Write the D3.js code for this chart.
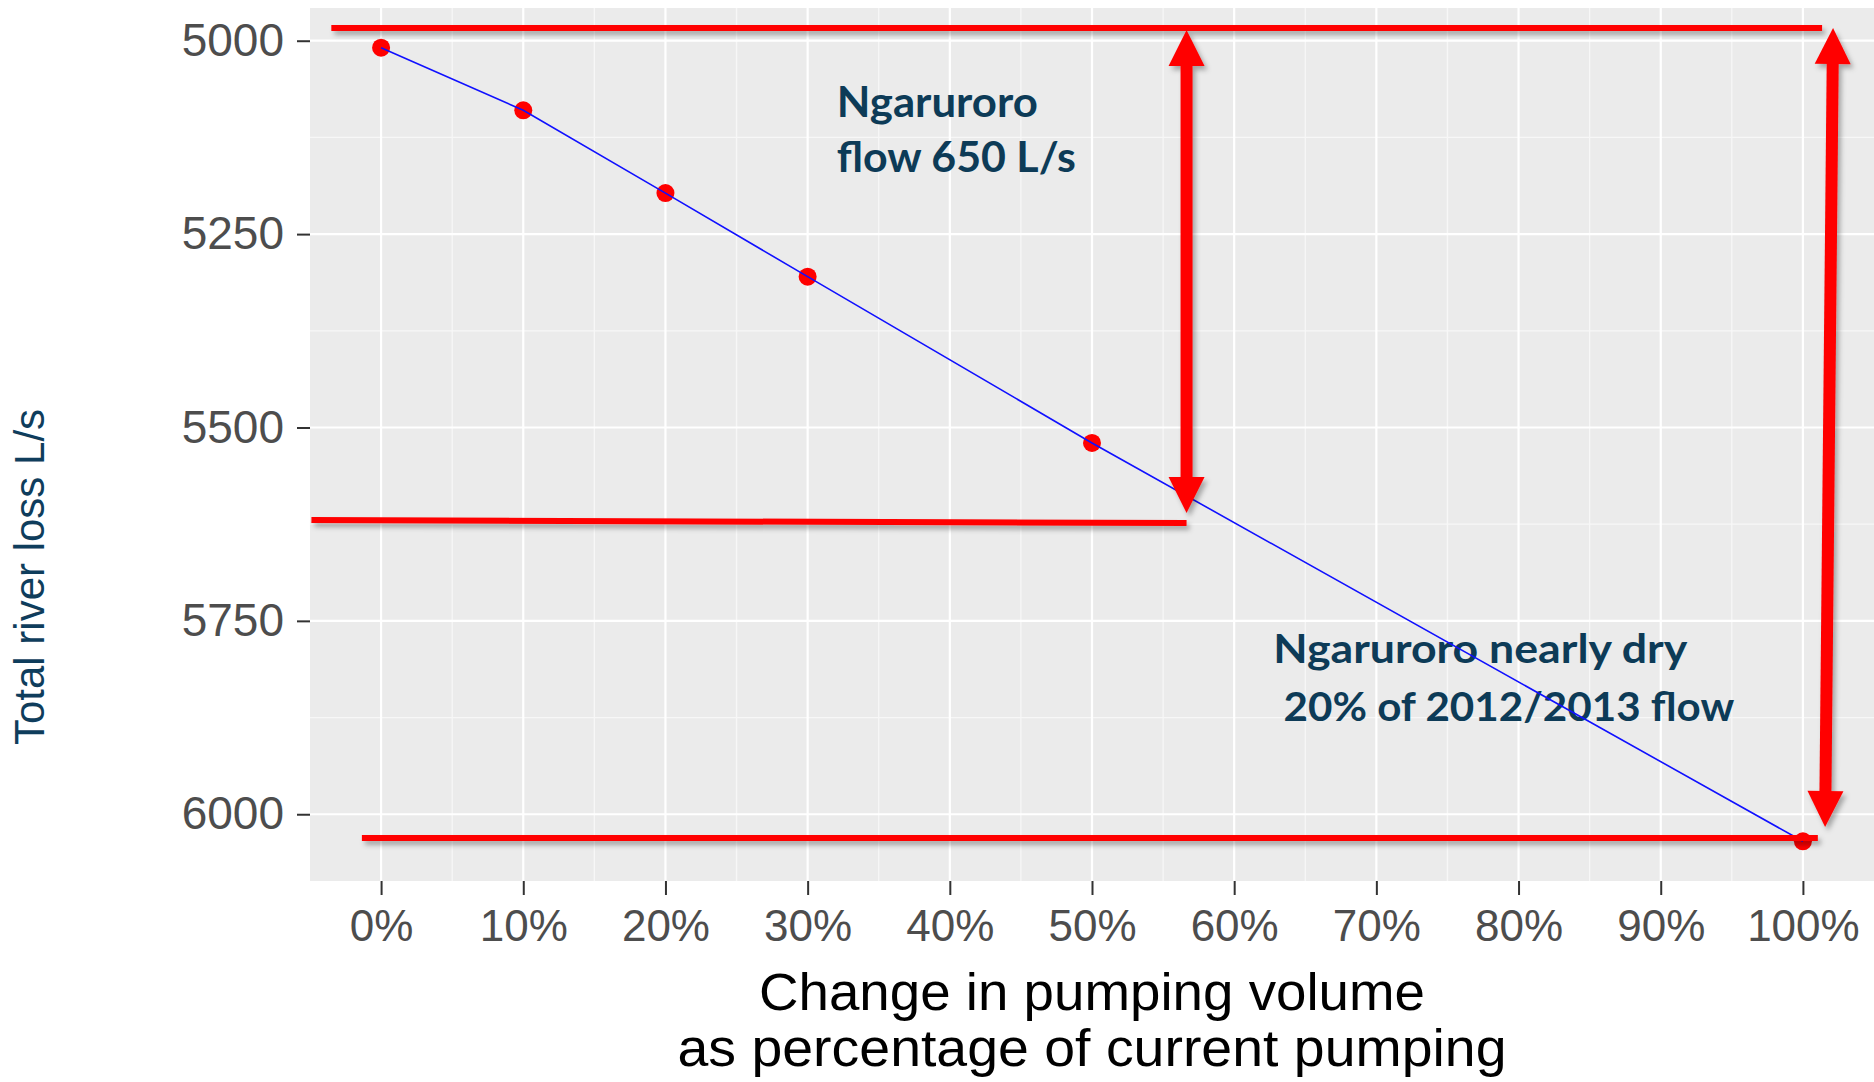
<!DOCTYPE html>
<html>
<head>
<meta charset="utf-8">
<script src="https://cdn.jsdelivr.net/npm/d3@7/dist/d3.min.js"></script>
<style>
  body { margin: 0; background: #ffffff; }
  svg { display: block; }
</style>
</head>
<body>
<div id="chart-area"></div>
<script>
// Datos
var pumpingChange = [0, 10, 20, 30, 50, 100];           // % del bombeo actual
var riverLoss = [5009, 5090, 5197, 5305, 5520, 6035];   // pérdida total L/s

var xTicks = [0, 10, 20, 30, 40, 50, 60, 70, 80, 90, 100];
var xMinor = [5, 15, 25, 35, 45, 55, 65, 75, 85, 95];
var yTicks = [5000, 5250, 5500, 5750, 6000];
var yMinor = [5125, 5375, 5625, 5875];

// Anotaciones (en unidades de datos)
var refLineX1 = [-3.5, -4.9, -1.35];
var refLineX2 = [101.35, 56.65, 101.05];
var refLineY1 = [4983.6, 5619.7, 6030.8];
var refLineY2 = [4983.6, 5623.6, 6030.8];

var arrowX1 = [56.65, 102.12];
var arrowY1 = [4986.2, 4983.6];
var arrowX2 = [56.65, 101.56];
var arrowY2 = [5610.6, 6016.5];

var noteLines = [
    ["Ngaruroro", "flow 650 L/s"],
    ["Ngaruroro nearly dry", " 20% of 2012/2013 flow"]
];

var W = 1874, H = 1082;
var margin = { top: 8, right: 0, bottom: 201, left: 310 },
    width = W - margin.left - margin.right,
    height = H - margin.top - margin.bottom;

var svg = d3.select("#chart-area")
    .append("svg")
    .attr("width", W)
    .attr("height", H);

var defs = svg.append("defs");
var shadow = defs.append("filter")
    .attr("id", "shadow")
    .attr("x", "-20%").attr("y", "-20%")
    .attr("width", "140%").attr("height", "140%");
shadow.append("feDropShadow")
    .attr("dx", 3).attr("dy", 4)
    .attr("stdDeviation", 2.5)
    .attr("flood-color", "#000")
    .attr("flood-opacity", 0.3);

var g = svg.append("g")
    .attr("transform", "translate(" + margin.left + "," + margin.top + ")");

// Escalas (expansión del 5% como ggplot)
var xScale = d3.scaleLinear().domain([-5, 105]).range([0, width]);
var yExt = d3.extent(riverLoss), yPad = (yExt[1] - yExt[0]) * 0.05;
var yScale = d3.scaleLinear()
    .domain([yExt[0] - yPad, yExt[1] + yPad])
    .range([0, height]);

// Fondo del panel
g.append("rect")
    .attr("width", width)
    .attr("height", height)
    .attr("fill", "#ebebeb");

// Cuadrícula menor y mayor
g.selectAll(".xminor").data(xMinor).enter().append("line")
    .attr("x1", function(d) { return xScale(d); })
    .attr("x2", function(d) { return xScale(d); })
    .attr("y1", 0).attr("y2", height)
    .attr("stroke", "#f7f7f7").attr("stroke-width", 1.3);
g.selectAll(".yminor").data(yMinor).enter().append("line")
    .attr("y1", function(d) { return yScale(d); })
    .attr("y2", function(d) { return yScale(d); })
    .attr("x1", 0).attr("x2", width)
    .attr("stroke", "#f7f7f7").attr("stroke-width", 1.3);
g.selectAll(".xmajor").data(xTicks).enter().append("line")
    .attr("x1", function(d) { return xScale(d); })
    .attr("x2", function(d) { return xScale(d); })
    .attr("y1", 0).attr("y2", height)
    .attr("stroke", "#ffffff").attr("stroke-width", 2.2);
g.selectAll(".ymajor").data(yTicks).enter().append("line")
    .attr("y1", function(d) { return yScale(d); })
    .attr("y2", function(d) { return yScale(d); })
    .attr("x1", 0).attr("x2", width)
    .attr("stroke", "#ffffff").attr("stroke-width", 2.2);

// Ejes
var xAxis = g.append("g")
    .attr("transform", "translate(0," + height + ")")
    .call(d3.axisBottom(xScale).tickValues(xTicks).tickSize(14).tickPadding(15)
        .tickFormat(function(d) { return d + "%"; }));
var yAxis = g.append("g")
    .call(d3.axisLeft(yScale).tickValues(yTicks).tickSize(13).tickPadding(13)
        .tickFormat(d3.format("d")));

[xAxis, yAxis].forEach(function(ax) {
    ax.select(".domain").remove();
    ax.selectAll(".tick line").attr("stroke", "#333333").attr("stroke-width", 2);
    ax.selectAll(".tick text")
        .attr("fill", "#4d4d4d")
        .style("font-family", "'Liberation Sans', Arial, sans-serif");
});
xAxis.selectAll(".tick text").style("font-size", "44px");
yAxis.selectAll(".tick text").style("font-size", "46px");

// Títulos de ejes
var xTitle = svg.append("text")
    .attr("text-anchor", "middle")
    .style("font-family", "'Liberation Sans', Arial, sans-serif")
    .style("font-size", "51px")
    .attr("fill", "#000000");
xTitle.append("tspan").attr("x", margin.left + width / 2).attr("y", 1010)
    .attr("textLength", 666).attr("lengthAdjust", "spacingAndGlyphs")
    .text("Change in pumping volume");
xTitle.append("tspan").attr("x", margin.left + width / 2).attr("y", 1066)
    .attr("textLength", 829).attr("lengthAdjust", "spacingAndGlyphs")
    .text("as percentage of current pumping");

svg.append("text")
    .attr("transform", "translate(44," + 577 + ") rotate(-90)")
    .attr("text-anchor", "middle")
    .style("font-family", "'Liberation Sans', Arial, sans-serif")
    .style("font-size", "42px")
    .attr("fill", "#0f3d5c")
    .text("Total river loss L/s");

// Puntos y línea
var data = pumpingChange.map(function(p, i) { return { x: p, y: riverLoss[i] }; });

g.selectAll("circle")
    .data(data)
    .enter().append("circle")
    .attr("cx", function(d) { return xScale(d.x); })
    .attr("cy", function(d) { return yScale(d.y); })
    .attr("r", 9)
    .attr("fill", "#ff0000");

// Texto de las anotaciones
var noteFont = "Lato, 'Open Sans', sans-serif";
var noteX = [32.05, 62.75];
var noteY = [5099, 5805];
var noteGap = [71, 75];
var noteLen = [[201, 239], [414, 461]];
noteLines.forEach(function(lines, i) {
    var t = g.append("text")
        .style("font-family", noteFont)
        .style("font-weight", "bold")
        .style("font-size", i === 0 ? "42px" : "40px")
        .style("white-space", "pre")
        .attr("fill", "#0d3b57");
    lines.forEach(function(s, j) {
        t.append("tspan")
            .attr("x", xScale(noteX[i]))
            .attr("y", yScale(noteY[i] + j * noteGap[i]))
            .attr("textLength", noteLen[i][j])
            .attr("lengthAdjust", "spacingAndGlyphs")
            .text(s);
    });
});

g.append("path")
    .datum(data)
    .attr("fill", "none")
    .attr("stroke", "#1010ff")
    .attr("stroke-width", 1.6)
    .attr("d", d3.line()
        .x(function(d) { return xScale(d.x); })
        .y(function(d) { return yScale(d.y); }));

// Líneas rojas de referencia y flechas
var red = g.append("g").attr("filter", "url(#shadow)");

refLineX1.forEach(function(x1, i) {
    red.append("line")
        .attr("x1", xScale(x1)).attr("y1", yScale(refLineY1[i]))
        .attr("x2", xScale(refLineX2[i])).attr("y2", yScale(refLineY2[i]))
        .attr("stroke", "#ff0000")
        .attr("stroke-width", 6);
});

var headLen = 36, headHalf = 18, shaftW = 12;
arrowX1.forEach(function(x1, i) {
    var ax = xScale(x1), ay = yScale(arrowY1[i]),
        bx = xScale(arrowX2[i]), by = yScale(arrowY2[i]);
    var len = Math.sqrt((bx - ax) * (bx - ax) + (by - ay) * (by - ay));
    var ux = (bx - ax) / len, uy = (by - ay) / len;   // dirección
    var nx = -uy, ny = ux;                               // normal
    red.append("line")
        .attr("x1", ax + ux * (headLen - 2)).attr("y1", ay + uy * (headLen - 2))
        .attr("x2", bx - ux * (headLen - 2)).attr("y2", by - uy * (headLen - 2))
        .attr("stroke", "#ff0000")
        .attr("stroke-width", shaftW);
    function head(tx, ty, dx, dy) {
        var baseX = tx + dx * headLen, baseY = ty + dy * headLen;
        return "M" + tx + "," + ty +
            "L" + (baseX + nx * headHalf) + "," + (baseY + ny * headHalf) +
            "L" + (baseX - nx * headHalf) + "," + (baseY - ny * headHalf) + "Z";
    }
    red.append("path").attr("d", head(ax, ay, ux, uy)).attr("fill", "#ff0000");
    red.append("path").attr("d", head(bx, by, -ux, -uy)).attr("fill", "#ff0000");
});
</script>
</body>
</html>
